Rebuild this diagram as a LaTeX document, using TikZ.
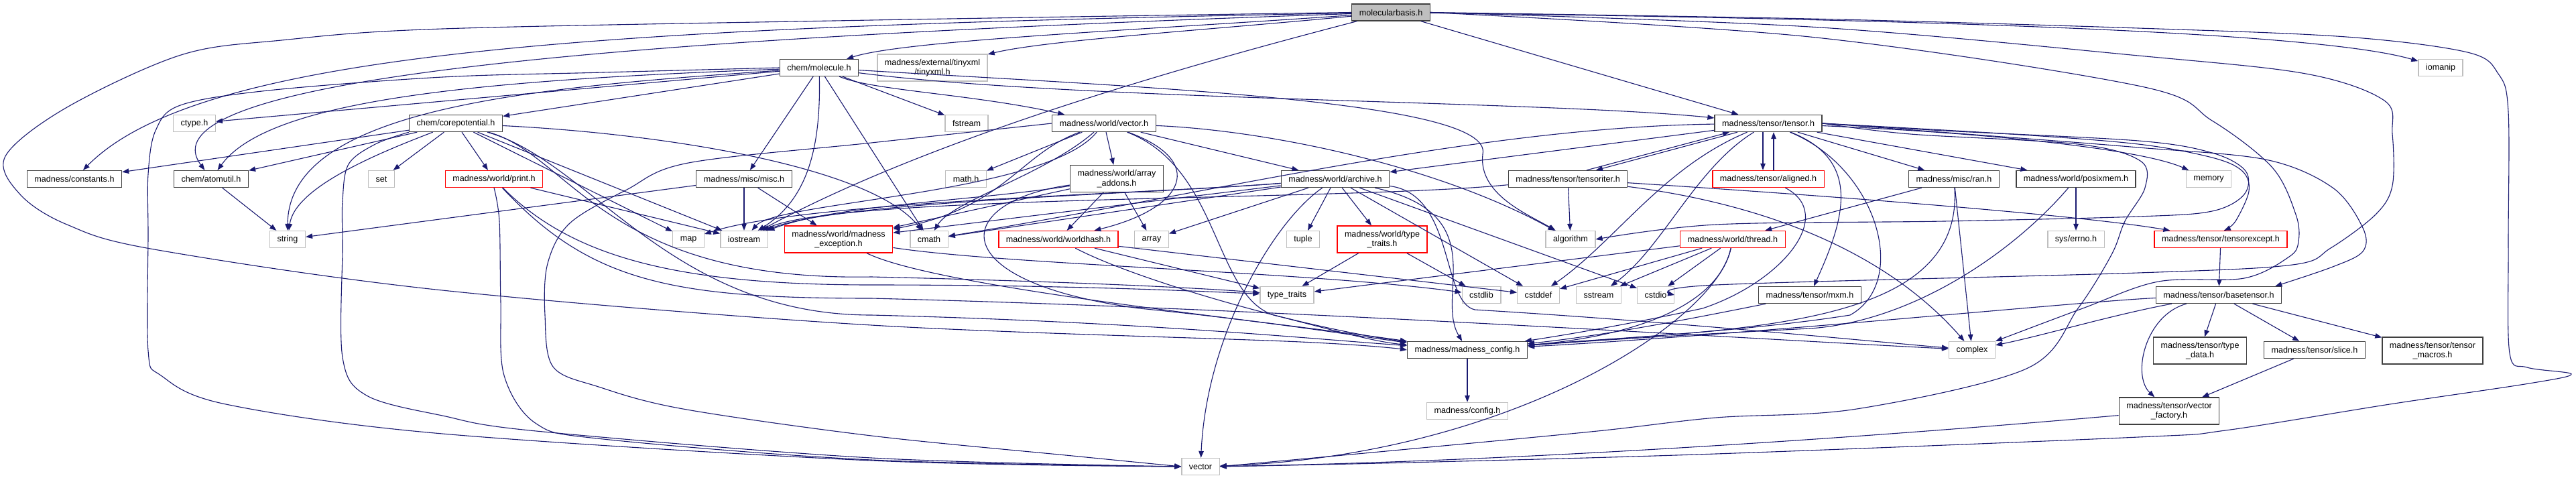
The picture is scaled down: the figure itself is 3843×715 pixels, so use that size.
\documentclass[tikz,border=0pt]{standalone}
\usepackage{fontspec}
\setmainfont{Liberation Sans}
\usetikzlibrary{arrows.meta}
\definecolor{edgec}{HTML}{191970}
\definecolor{grayb}{HTML}{BFBFBF}
\definecolor{darkb}{HTML}{404040}
\definecolor{redb}{HTML}{FF0000}
\tikzset{
  nbox/.style={draw=darkb, line width=1.3pt, inner xsep=11pt, inner ysep=0pt, minimum height=25pt, font=\fontsize{12.6}{14.5}\selectfont, align=center, fill=white},
  gbox/.style={nbox, draw=grayb},
  rbox/.style={nbox, draw=redb},
  rootbox/.style={nbox, fill=grayb},
  twol/.style={minimum height=40pt},
  dep/.style={draw=edgec, line width=1.1pt, -{Triangle[length=10pt,width=7.5pt]}},
}
\begin{document}
\begin{tikzpicture}[x=1pt,y=-1pt]
\fill[white] (0,0) rectangle (3843,715);
\useasboundingbox (0,0) rectangle (3843,715);
% nodes
\node[rootbox] (mb) at (2075,18.5) {molecularbasis.h};
\node[nbox] (mol) at (1222,101) {chem/molecule.h};
\node[gbox,twol] (txml) at (1391,101) {madness/external/tinyxml\\/tinyxml.h};
\node[gbox] (ioman) at (3641,101) {iomanip};
\node[nbox] (core) at (680,184) {chem/corepotential.h};
\node[gbox] (ctype) at (290,184) {ctype.h};
\node[gbox] (fstream) at (1442,184) {fstream};
\node[nbox] (wvec) at (1647,184) {madness/world/vector.h};
\node[nbox] (tensor) at (2638,184) {madness/tensor/tensor.h};
\node[nbox] (cnst) at (111,267) {madness/constants.h};
\node[nbox] (atom) at (315,267) {chem/atomutil.h};
\node[gbox] (setn) at (569,267) {set};
\node[rbox] (print) at (737,267) {madness/world/print.h};
\node[nbox] (misc) at (1110,267) {madness/misc/misc.h};
\node[gbox] (math) at (1441,267) {math.h};
\node[nbox,twol] (arr) at (1666,266.5) {madness/world/array\\\_addons.h};
\node[nbox] (arch) at (1992,267) {madness/world/archive.h};
\node[nbox] (titer) at (2339,267) {madness/tensor/tensoriter.h};
\node[rbox] (align) at (2638,267) {madness/tensor/aligned.h};
\node[nbox] (ran) at (2915,267) {madness/misc/ran.h};
\node[nbox] (posix) at (3097,267) {madness/world/posixmem.h};
\node[gbox] (mem) at (3295,267) {memory};
\node[gbox] (strn) at (429,357) {string};
\node[gbox] (mapn) at (1027,357) {map};
\node[gbox] (iostream) at (1110,357) {iostream};
\node[rbox,twol] (exc) at (1251,357) {madness/world/madness\\\_exception.h};
\node[gbox] (cmath) at (1386,357) {cmath};
\node[rbox] (whash) at (1579,357) {madness/world/worldhash.h};
\node[gbox] (arrayn) at (1718,357) {array};
\node[gbox] (tup) at (1944,357) {tuple};
\node[rbox,twol] (wtt) at (2062,357) {madness/world/type\\\_traits.h};
\node[gbox] (algo) at (2343,357) {algorithm};
\node[rbox] (thread) at (2585,357) {madness/world/thread.h};
\node[gbox] (errn) at (3097,357) {sys/errno.h};
\node[rbox] (texc) at (3313,357) {madness/tensor/tensorexcept.h};
\node[gbox] (tt) at (1920,440) {type\_traits};
\node[gbox] (cstdlib) at (2210,440) {cstdlib};
\node[gbox] (cstddef) at (2295,440) {cstddef};
\node[gbox] (sstream) at (2385,440) {sstream};
\node[gbox] (cstdio) at (2470,440) {cstdio};
\node[nbox] (mxm) at (2700,440) {madness/tensor/mxm.h};
\node[nbox] (base) at (3310,440) {madness/tensor/basetensor.h};
\node[nbox] (mconf) at (2189,522) {madness/madness\_config.h};
\node[gbox] (cplx) at (2942,522) {complex};
\node[nbox,twol] (tdata) at (3282,523) {madness/tensor/type\\\_data.h};
\node[nbox] (slice) at (3453,522) {madness/tensor/slice.h};
\node[nbox,twol] (tmac) at (3629,523) {madness/tensor/tensor\\\_macros.h};
\node[gbox] (conf) at (2189,613) {madness/config.h};
\node[nbox,twol] (vfac) at (3236,613) {madness/tensor/vector\\\_factory.h};
\node[gbox] (vecn) at (1791,696) {vector};

% molecularbasis.h
\draw[dep] (mb) .. controls (1700,45) and (1350,60) .. (mol);
\draw[dep] (mb) .. controls (1800,45) and (1560,60) .. (txml);
\draw[dep] (mb) -- (tensor);
\draw[dep] (mb) .. controls (2800,28) and (3450,45) .. (ioman);
\draw[dep] (mb) .. controls (900,40) and (300,75) .. (cnst);
\draw[dep] (mb) .. controls (1000,55) and (200,110) .. (atom);
\draw[dep] (mb) .. controls (1800,90) and (1400,200) .. (iostream);
\draw[dep] plot[smooth,tension=0.55] coordinates {(mb.west) (1300,30) (660,43) (420,60) (270,82) (100,160) (8,233) (30,290) (100,335) (230,372) (660,433) (1300,485) (1940,510) (mconf.west)};
\draw[dep] plot[smooth,tension=0.55] coordinates {(mb.east) (2700,28) (3190,42) (3500,55) (3681,78) (3727,110) (3742,167) (3742,370) (3744,527) (3770,548) (3836,558) (3773,572) (3565,603) (3320,642) (3190,652) (2560,677) (2100,690) (vecn.east)};
\draw[dep] plot[smooth,tension=0.55] coordinates {(mb.east) (2700,40) (3190,83) (3440,110) (3557,150) (3569,200) (3569,277) (3544,320) (3477,370) (3420,395) (3190,407) (2560,425) (cstdio.east)};
\draw[dep] plot[smooth,tension=0.55] coordinates {(mb.east) (2700,55) (3190,128) (3300,180) (3390,250) (3425,320) (3429,360) (3415,383) (3348,415) (3220,420) (3107,460) (cplx.north east)};

% chem/molecule.h
\draw[dep] (mol) -- (core);
\draw[dep] (mol) -- (ctype);
\draw[dep] (mol) .. controls (700,120) and (400,150) .. (atom);
\draw[dep] (mol) .. controls (800,130) and (430,160) .. (strn);
\draw[dep] plot[smooth,tension=0.55] coordinates {(mol.west) (900,108) (660,115) (400,135) (269,157) (232,195) (221,260) (221,350) (221,523) (240,560) (337,603) (660,647) (1300,687) (vecn.west)};
\draw[dep] (mol) -- (misc);
\draw[dep] (mol) .. controls (1225,230) and (1200,300) .. (iostream);
\draw[dep] (mol) -- (cmath);
\draw[dep] (mol) -- (fstream);
\draw[dep] (mol) .. controls (1300,135) and (1450,140) .. (wvec);
\draw[dep] (mol) .. controls (1700,130) and (2230,150) .. (2212,230) .. controls (2205,290) and (2280,320) .. (algo);
\draw[dep] (mol) .. controls (1600,150) and (2300,150) .. (tensor);

% chem/corepotential.h
\draw[dep] (core) -- (cnst);
\draw[dep] (core) -- (atom);
\draw[dep] (core) .. controls (560,230) and (440,280) .. (strn);
\draw[dep] (core) -- (setn);
\draw[dep] (core) -- (print);
\draw[dep] (core) -- (mapn);
\draw[dep] (core) -- (iostream);
\draw[dep] (core) .. controls (1000,200) and (1300,250) .. (cmath);
\draw[dep] plot[smooth,tension=0.55] coordinates {(core.south west) (560,215) (520,245) (511,300) (511,370) (511,533) (547,590) (660,620) (800,643) (1300,683) (vecn.west)};
\draw[dep] (core) .. controls (850,230) and (900,420) .. (1300,413) .. controls (1600,420) and (1800,430) .. (tt);
\draw[dep] (core) .. controls (880,240) and (1000,470) .. (1300,470) .. controls (1700,480) and (1950,505) .. (mconf);

% print.h
\draw[dep] (print) -- (iostream);
\draw[dep] plot[smooth,tension=0.55] coordinates {(print.south) (745,330) (747,450) (752,560) (800,632) (900,655) (1300,686) (vecn.west)};
\draw[dep] (print) .. controls (850,380) and (1000,425) .. (1300,425) .. controls (1600,425) and (1800,435) .. (tt);
\draw[dep] (print) .. controls (880,420) and (1000,445) .. (1300,445) .. controls (1900,460) and (2600,505) .. (cplx);

% atomutil, misc
\draw[dep] (atom) -- (strn);
\draw[dep] (misc) -- (strn);
\draw[dep] (misc) -- (iostream);
\draw[dep] (misc) -- (exc);

% madness/world/vector.h
\draw[dep] (wvec) -- (math);
\draw[dep] (wvec) .. controls (1520,230) and (1500,310) .. (exc);
\draw[dep] (wvec) .. controls (1560,260) and (1420,300) .. (cmath);
\draw[dep] (wvec) -- (arr);
\draw[dep] (wvec) .. controls (1800,240) and (1770,310) .. (whash);
\draw[dep] (wvec) -- (arch);
\draw[dep] (wvec) .. controls (1900,195) and (2150,250) .. (algo);
\draw[dep] (wvec) .. controls (1820,250) and (1810,440) .. (1900,470) .. controls (1980,490) and (2050,510) .. (mconf);
\draw[dep] (wvec) .. controls (1560,290) and (1160,300) .. (iostream);
\draw[dep] plot[smooth,tension=0.55] coordinates {(wvec.west) (1300,213) (1027,243) (935,283) (850,333) (817,393) (813,470) (825,547) (893,577) (1019,610) (1300,650) (1600,680) (vecn.west)};

% array_addons.h
\draw[dep] (arr) .. controls (1450,300) and (1250,305) .. (iostream);
\draw[dep] (arr) -- (exc);
\draw[dep] (arr) -- (whash);
\draw[dep] (arr) -- (arrayn);
\draw[dep] (arr) .. controls (1420,300) and (1400,420) .. (1700,460) .. controls (1900,480) and (2050,505) .. (mconf);

% archive.h
\draw[dep] (arch) .. controls (1700,290) and (1250,300) .. (iostream);
\draw[dep] (arch) -- (exc);
\draw[dep] (arch) -- (cmath);
\draw[dep] (arch) .. controls (1700,290) and (1200,300) .. (mapn);
\draw[dep] (arch) -- (arrayn);
\draw[dep] (arch) -- (tup);
\draw[dep] (arch) -- (wtt);
\draw[dep] (arch) -- (cstddef);
\draw[dep] (arch) -- (cstdio);
\draw[dep] (arch) .. controls (1900,330) and (1800,500) .. (vecn);
\draw[dep] (arch) .. controls (2170,290) and (2150,450) .. (2200,462) .. controls (2500,480) and (2800,510) .. (cplx);
\draw[dep] (arch) .. controls (2230,320) and (2140,440) .. (mconf);

% worldhash, type_traits.h, madness_exception
\draw[dep] (whash) -- (tt);
\draw[dep] (whash) -- (cstddef);
\draw[dep] (whash) .. controls (1700,420) and (1950,490) .. (mconf);
\draw[dep] (wtt) -- (tt);
\draw[dep] (wtt) -- (cstdlib);
\draw[dep] (exc) .. controls (1400,430) and (1900,480) .. (mconf);
\draw[dep] (exc) .. controls (1500,395) and (1950,405) .. (cstdlib);

% tensoriter.h
\draw[dep] (titer) -- (algo);
\draw[dep] ([xshift=28pt]titer.north) -- ([xshift=-58pt]tensor.south);
\draw[dep] ([xshift=-46pt]tensor.south) -- ([xshift=42pt]titer.north);
\draw[dep] (titer) .. controls (2700,290) and (3100,320) .. (texc);
\draw[dep] (titer) .. controls (2000,300) and (1250,290) .. (iostream);
\draw[dep] (titer) .. controls (2600,300) and (2800,360) .. (cplx);

% tensor.h
\draw[dep] ([xshift=-8pt]tensor.south) -- ([xshift=-8pt]align.north);
\draw[dep] ([xshift=8pt]align.north) -- ([xshift=8pt]tensor.south);
\draw[dep] (tensor) -- (ran);
\draw[dep] (tensor) -- (posix);
\draw[dep] (tensor) .. controls (3000,200) and (3200,225) .. (mem);
\draw[dep] plot[smooth,tension=0.55] coordinates {(tensor.east) (3000,200) (3190,215) (3300,235) (3345,255) (3355,285) (3335,330) (texc.70)};
\draw[dep] (tensor) .. controls (2780,240) and (2750,330) .. (mxm);
\draw[dep] plot[smooth,tension=0.55] coordinates {(tensor.east) (3000,205) (3190,220) (3380,238) (3480,280) (3525,340) (3525,375) (3480,398) ([xshift=-10pt]base.north east)};
\draw[dep] plot[smooth,tension=0.55] coordinates {(tensor.east) (2900,195) (3190,210) (3300,228) (3350,255) (3348,290) (3300,315) (3190,323) (2900,330) (2560,335) (algo.east)};
\draw[dep] plot[smooth,tension=0.55] coordinates {(tensor.east) (2850,200) (3100,215) (3193,240) (3200,280) (3170,330) (3150,380) (3100,460) (3023,550) (2770,610) (2560,623) (2383,643) (2100,670) (vecn.east)};
\draw[dep] (tensor) -- (arch);
\draw[dep] (tensor) .. controls (2200,190) and (1800,290) .. (cmath);
\draw[dep] (tensor) .. controls (2480,250) and (2410,360) .. (cstddef);
\draw[dep] (tensor) .. controls (2530,250) and (2480,370) .. (sstream);
\draw[dep] (tensor) .. controls (2800,250) and (2850,420) .. (2760,470) .. controls (2600,495) and (2400,505) .. (mconf);

% aligned, ran, posixmem, mxm
\draw[dep] (align) .. controls (2740,320) and (2660,420) .. (2540,460) .. controls (2400,490) and (2300,505) .. (mconf);
\draw[dep] (ran) -- (thread);
\draw[dep] (ran) -- (cplx);
\draw[dep] (ran) .. controls (2930,490) and (2600,490) .. (mconf);
\draw[dep] (posix) -- (errn);
\draw[dep] (posix) .. controls (3000,380) and (2850,480) .. (2700,490) .. controls (2500,500) and (2350,510) .. (mconf);
\draw[dep] (mxm) .. controls (2550,470) and (2400,500) .. (mconf);

% thread.h
\draw[dep] (thread) -- (tt);
\draw[dep] (thread) -- (cstddef);
\draw[dep] (thread) -- (sstream);
\draw[dep] (thread) -- (cstdio);
\draw[dep] (thread) .. controls (2560,470) and (2400,505) .. (mconf);
\draw[dep] (thread) .. controls (2560,480) and (2250,680) .. (vecn);

% tensorexcept, basetensor, slice, vector_factory, config
\draw[dep] (texc) -- (base);
\draw[dep] (base) -- (tdata);
\draw[dep] (base) -- (slice);
\draw[dep] (base) -- (tmac);
\draw[dep] (base) .. controls (3200,470) and (3180,560) .. (vfac);
\draw[dep] (base) .. controls (3100,450) and (2600,500) .. (mconf);
\draw[dep] (base) .. controls (3150,470) and (3050,500) .. (cplx);
\draw[dep] (slice) -- (vfac);
\draw[dep] (vfac) .. controls (2700,660) and (2200,690) .. (vecn);
\draw[dep] (mconf) -- (conf);
\end{tikzpicture}
\end{document}
